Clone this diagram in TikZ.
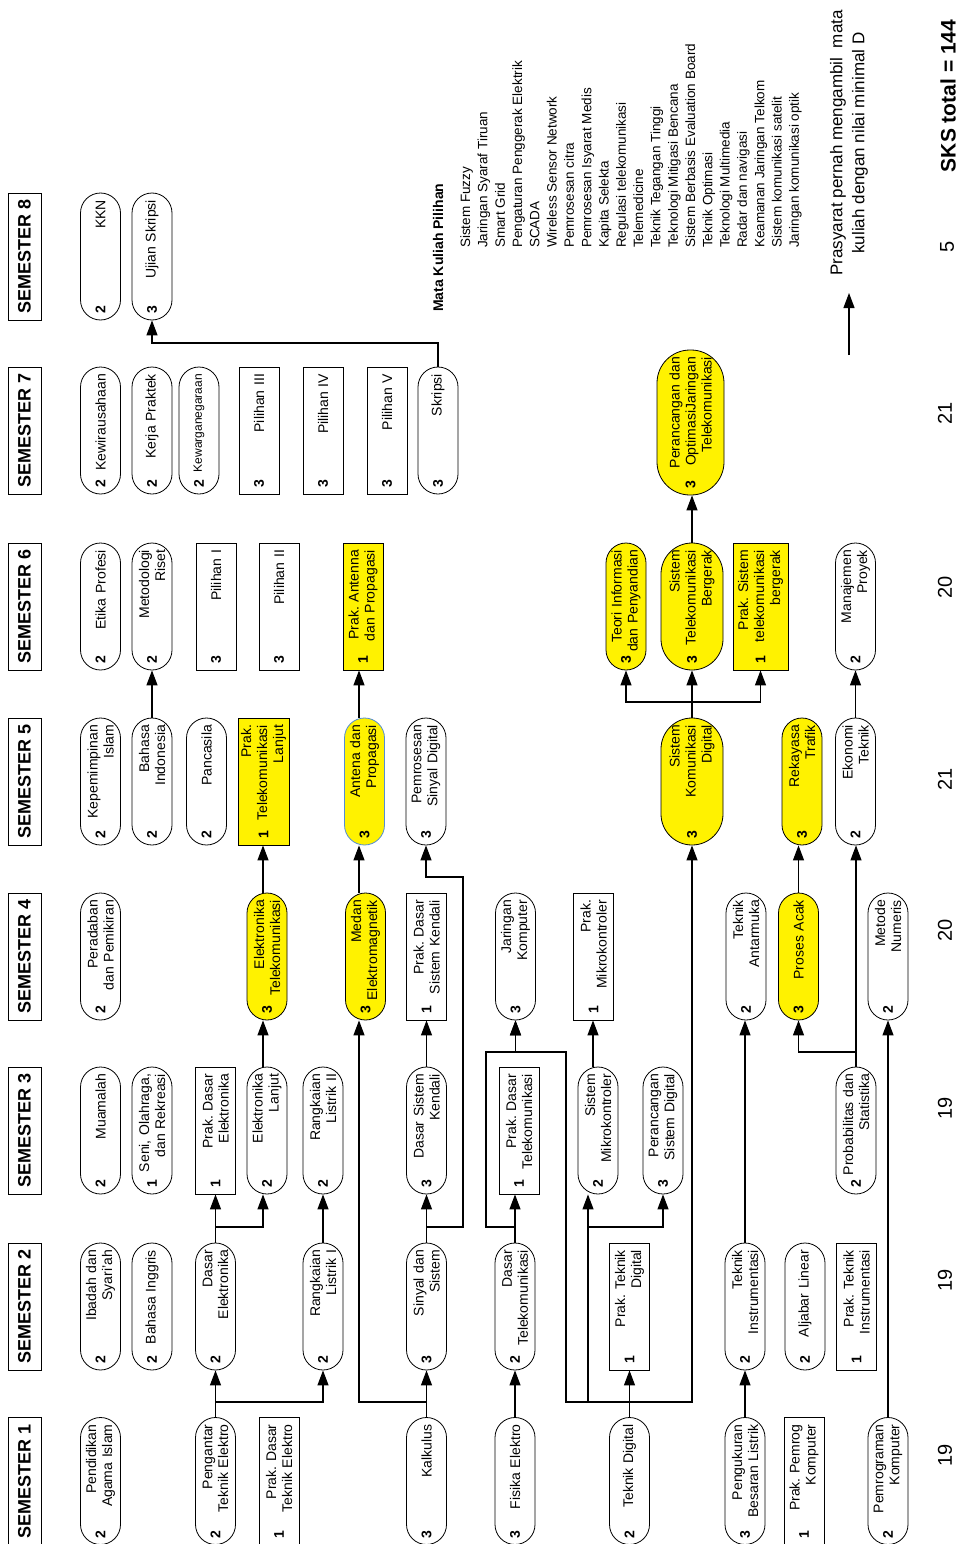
\documentclass[tikz,border=0pt]{standalone}
\usepackage{fontspec}
\setmainfont{Liberation Sans}
\usetikzlibrary{arrows.meta}
\frenchspacing
\tikzset{
  box/.style={draw=black, line width=0.8pt, rotate=90, minimum width=127pt, minimum height=40pt,
    inner xsep=7pt, inner ysep=0pt, text width=113pt, align=right, font=\fontsize{14}{16}\selectfont},
  rnd/.style={box, rounded corners=20pt},
  rct/.style={box},
  yrnd/.style={rnd, fill=yellow},
  yrct/.style={rct, fill=yellow},
  credit/.style={rotate=90, inner sep=0pt, font=\bfseries\fontsize{14}{16}\selectfont},
  hdr/.style={draw=black, line width=0.8pt, rotate=90, minimum width=127pt, minimum height=33pt,
    inner sep=0pt, font=\bfseries\fontsize{18}{20}\selectfont},
  arr/.style={line width=1.2pt, -{Triangle[length=15pt,width=11pt]}},
  sks/.style={rotate=90, inner sep=0pt, font=\fontsize{20}{22}\selectfont},
}
\newcommand\crs[7][]{%
  \node[#2,#1] (#3) at (#4,#5) {#7};
  \path (#3.west) ++(0,-10.5) node[credit] (#3n) {#6};}
\begin{document}
\begin{tikzpicture}[x=1pt,y=-1pt]
\fill[white] (0,0) rectangle (962,1544);
\useasboundingbox (0,0) rectangle (962,1544);

% headers
\node[hdr] (h1) at (24.5,1481) {SEMESTER 1};
\node[hdr] (h2) at (24.5,1306.5) {SEMESTER 2};
\node[hdr] (h3) at (24.5,1130.5) {SEMESTER 3};
\node[hdr] (h4) at (24.5,956.5) {SEMESTER 4};
\node[hdr] (h5) at (24.5,781.5) {SEMESTER 5};
\node[hdr] (h6) at (24.5,606.5) {SEMESTER 6};
\node[hdr] (h7) at (24.5,430.5) {SEMESTER 7};
\node[hdr] (h8) at (24.5,256.5) {SEMESTER 8};

% semester 1
\crs{rnd}{pai}{100.5}{1481}{2}{Pendidikan\\Agama Islam}
\crs{rnd}{pte}{215.5}{1481}{2}{Pengantar\\Teknik Elektro}
\crs{rct}{pdte}{279}{1481}{1}{Prak. Dasar\\Teknik Elektro}
\crs{rnd}{kal}{426.5}{1481}{3}{Kalkulus}
\crs{rnd}{fis}{515}{1481}{3}{Fisika Elektro}
\crs{rnd}{tdig}{629.5}{1481}{2}{Teknik Digital}
\crs{rnd}{pbl}{745}{1481}{3}{Pengukuran\\Besaran Listrik}
\crs{rct}{ppk}{804}{1481}{1}{Prak. Pemrog\\Komputer}
\crs{rnd}{pk}{888}{1481}{2}{Pemrograman\\Komputer}

% semester 2
\crs{rnd}{ibd}{100.5}{1306.5}{2}{Ibadah dan\\Syari'ah}
\crs{rnd}{bing}{152}{1306.5}{2}{Bahasa Inggris}
\crs{rnd}{de}{215.5}{1306.5}{2}{Dasar\\Elektronika}
\crs{rnd}{rla}{323}{1306.5}{2}{Rangkaian\\Listrik I}
\crs{rnd}{sns}{426.5}{1306.5}{3}{Sinyal dan\\Sistem}
\crs{rnd}{dtel}{515}{1306.5}{2}{Dasar\\Telekomunikasi}
\crs{rct}{ptd}{629.5}{1306.5}{1}{Prak. Teknik\\Digital}
\crs{rnd}{ti}{745}{1306.5}{2}{Teknik\\Instrumentasi}
\crs{rnd}{al}{805}{1306.5}{2}{Aljabar Linear}
\crs{rct}{pti}{856.5}{1306.5}{1}{Prak. Teknik\\Instrumentasi}

% semester 3
\crs{rnd}{mua}{100.5}{1130.5}{2}{Muamalah}
\crs{rnd}{seni}{152}{1130.5}{1}{Seni, Olahraga,\\dan Rekreasi}
\crs{rct}{pde}{215.5}{1130.5}{1}{Prak. Dasar\\Elektronika}
\crs{rnd}{el}{267}{1130.5}{2}{Elektronika\\Lanjut}
\crs{rnd}{rlb}{323}{1130.5}{2}{Rangkaian\\Listrik II}
\crs{rnd}{dsk}{426.5}{1130.5}{3}{Dasar Sistem\\Kendali}
\crs{rct}{pdt}{519}{1130.5}{1}{Prak. Dasar\\Telekomunikasi}
\crs{rnd}{smk}{598}{1130.5}{2}{Sistem\\Mikrokontroler}
\crs{rnd}{psd}{663}{1130.5}{3}{Perancangan\\Sistem Digital}
\crs{rnd}{prob}{856}{1130.5}{2}{Probabilitas dan\\Statistika}

% semester 4
\crs{rnd}{per}{100.5}{956.5}{2}{Peradaban\\dan Pemikiran}
\crs{yrnd}{et}{267}{956.5}{3}{Elektronika\\Telekomunikasi}
\crs{yrnd}{me}{365.5}{956.5}{3}{Medan\\Elektromagnetik}
\crs{rct}{pdsk}{426.5}{956.5}{1}{Prak. Dasar\\Sistem Kendali}
\crs{rnd}{jk}{515.5}{956.5}{3}{Jaringan\\Komputer}
\crs{rct}{pmk}{593.5}{956.5}{1}{Prak.\\Mikrokontroler}
\crs{rnd}{ta}{746}{956.5}{2}{Teknik\\Antarmuka}
\crs{yrnd}{pa}{798.5}{956.5}{3}{Proses Acak}
\crs{rnd}{mn}{888}{956.5}{2}{Metode\\Numeris}

% semester 5
\crs{rnd}{kep}{100.5}{781.5}{2}{Kepemimpinan\\Islam}
\crs{rnd}{bind}{152}{781.5}{2}{Bahasa\\Indonesia}
\crs{rnd}{panc}{206.5}{781.5}{2}{Pancasila}
\crs[minimum height=51pt]{yrct}{ptl}{263.5}{781.5}{1}{Prak.\\Telekomunikasi\\Lanjut}
\crs[draw={rgb,255:red,84;green,141;blue,212}]{yrnd}{ap}{364.5}{781.5}{3}{Antena dan\\Propagasi}
\crs{rnd}{psdig}{426}{781.5}{3}{Pemrosesan\\Sinyal Digital}
\crs[minimum height=62pt, rounded corners=31pt]{yrnd}{skd}{692}{781.5}{3}{Sistem\\Komunikasi\\Digital}
\crs{yrnd}{rt}{802}{781.5}{3}{Rekayasa\\Trafik}
\crs{rnd}{ek}{855.5}{781.5}{2}{Ekonomi\\Teknik}

% semester 6
\crs{rnd}{etika}{100.5}{606.5}{2}{Etika Profesi}
\crs{rnd}{mr}{152}{606.5}{2}{Metodologi\\Riset}
\crs{rct}{pila}{216}{606.5}{3}{Pilihan I}
\crs{rct}{pilb}{279}{606.5}{3}{Pilihan II}
\crs{yrct}{pap}{363}{606.5}{1}{Prak. Antenna\\dan Propagasi}
\crs{yrnd}{tip}{626}{606.5}{3}{Teori Informasi\\dan Penyandian}
\crs[minimum height=62pt, rounded corners=31pt]{yrnd}{stb}{692}{606.5}{3}{Sistem\\Telekomunikasi\\Bergerak}
\crs[minimum height=55pt]{yrct}{pstb}{760.5}{606.5}{1}{Prak. Sistem\\telekomunikasi\\bergerak}
\crs{rnd}{mp}{855.5}{606.5}{2}{Manajemen\\Proyek}

% semester 7
\crs{rnd}{kwu}{100.5}{430.5}{2}{Kewirausahaan}
\crs{rnd}{kp}{152}{430.5}{2}{Kerja Praktek}
\crs[font=\fontsize{12}{14}\selectfont]{rnd}{kwn}{199}{430.5}{2}{Kewarganegaraan}
\crs{rct}{pilc}{259}{430.5}{3}{Pilihan III}
\crs{rct}{pild}{323}{430.5}{3}{Pilihan IV}
\crs{rct}{pile}{387}{430.5}{3}{Pilihan V}
\crs{rnd}{skr}{438}{430.5}{3}{Skripsi}
\crs[minimum height=67pt, minimum width=145pt, text width=131pt, rounded corners=33pt]{yrnd}{poj}{690.5}{422.5}{3}{Perancangan dan\\OptimasiJaringan\\Telekomunikasi}

% semester 8
\crs{rnd}{kkn}{100.5}{256.5}{2}{KKN}
\crs{rnd}{ujs}{152}{256.5}{3}{Ujian Skripsi}

% connectors
\draw[arr] (pte.east) -- (de.west);
\draw[arr] (pte.east) -- (215.5,1402) -| (rla.west);
\draw[arr] (de.east) -- (pde.west);
\draw[arr] (de.east) -- (215.5,1227) -| ([xshift=-4pt]el.west);
\draw[arr] (rla.east) -- (rlb.west);
\draw[arr] ([xshift=-4pt]el.east) -- ([xshift=-4pt]et.west);
\draw[arr] ([xshift=-4pt]et.east) -- ([xshift=-4pt]et.east |- ptl.west);
\draw[arr] (kal.east) -- (sns.west);
\draw[arr] (kal.east) -- (426.5,1402) -| ([xshift=-6.5pt]me.west);
\draw[arr] ([xshift=-6.5pt]me.east) -- ([xshift=-6.5pt]me.east |- ap.west);
\draw[arr] ([xshift=-6.5pt]me.east |- ap.east) -- ([xshift=-6.5pt]me.east |- pap.west);
\draw[arr] (sns.east) -- (dsk.west);
\draw[arr] (sns.east) -- (426.5,1227) -- (463,1227) -- (463,877) -| (psdig.west);
\draw[arr] (dsk.east) -- (pdsk.west);
\draw[arr] (fis.east) -- (dtel.west);
\draw[arr] (dtel.east) -- (dtel.east |- pdt.west);
\draw[arr] (dtel.east) -- (515,1227) -- (486,1227) -- (486,1052) -| (jk.west);
\draw[arr] (tdig.east) -- (ptd.west);
\draw[arr] (tdig.east) -- (629.5,1402) -- (566,1402) -- (566,1052) -| (jk.west);
\draw[arr] (tdig.east) -- (629.5,1402) -- (588,1402) -- ([xshift=-10pt]smk.west);
\draw[arr] (tdig.east) -- (629.5,1402) -- (588,1402) -- (588,1227) -| (psd.west);
\draw[arr] (tdig.east) -- (629.5,1402) -| (skd.west);
\draw[arr] ([xshift=-5pt]smk.east) -- ([xshift=-5pt]smk.east |- pmk.west);
\draw[arr] (pbl.east) -- (ti.west);
\draw[arr] (ti.east) -- (ti.east |- ta.west);
\draw[arr] (pk.east) -- (mn.west);
\draw[arr] (prob.east) -- (prob.east |- ek.west);
\draw[arr] (prob.east) -- (856,1052) -| (pa.west);
\draw[arr] (pa.east) -- (pa.east |- rt.west);
\draw[arr] (ek.east) -- (mp.west);
\draw[arr] (bind.east) -- (mr.west);
\draw[arr] (skd.east) -- (stb.west);
\draw[arr] (skd.east) -- (692,702) -| (tip.west);
\draw[arr] (skd.east) -- (692,702) -| (pstb.west);
\draw[arr] (stb.east) -- (stb.east |- poj.west);
\draw[arr] (skr.east) -- (438,343) -| (ujs.west);

% elective list
\node[rotate=90, anchor=west, inner sep=0pt, font=\bfseries\fontsize{14}{16}\selectfont] (mkp) at (438,312) {Mata Kuliah Pilihan};
\node[rotate=90, anchor=west, align=left, inner sep=0pt, font=\fontsize{13.5}{17.3}\selectfont] (mkl) at (631,248)
 {Sistem Fuzzy\\Jaringan Syaraf Tiruan\\Smart Grid\\Pengaturan Penggerak Elektrik\\SCADA\\Wireless Sensor Network\\Pemrosesan citra\\Pemrosesan Isyarat Medis\\Kapita Selekta\\Regulasi telekomunikasi\\Telemedicine\\Teknik Tegangan Tinggi\\Teknologi Mitigasi Bencana\\Sistem Berbasis Evaluation Board\\Teknik Optimasi\\Teknologi Multimedia\\Radar dan navigasi\\Keamanan Jaringan Telkom\\Sistem komunikasi satelit\\Jaringan komunikasi optik};

% legend
\coordinate (lgs) at (849,355);
\coordinate (lge) at (849,293);
\draw[arr] (lgs) -- (lge);
\node[rotate=90, align=center, inner sep=0pt, font=\fontsize{17}{22}\selectfont] (lgt) at (849,143)
 {Prasyarat pernah mengambil\ \ mata\\kuliah dengan nilai minimal D};

% SKS per semester
\node[sks] (s1) at (945,1455) {19};
\node[sks] (s2) at (945,1280) {19};
\node[sks] (s3) at (945,1108) {19};
\node[sks] (s4) at (945,930) {20};
\node[sks] (s5) at (945,779) {21};
\node[sks] (s6) at (945,587) {20};
\node[sks] (s7) at (945,413) {21};
\node[sks] (s8) at (947,247) {5};
\node[rotate=90, inner sep=0pt, font=\bfseries\fontsize{21}{24}\selectfont] (stot) at (948,96) {SKS total = 144};
\end{tikzpicture}
\end{document}
